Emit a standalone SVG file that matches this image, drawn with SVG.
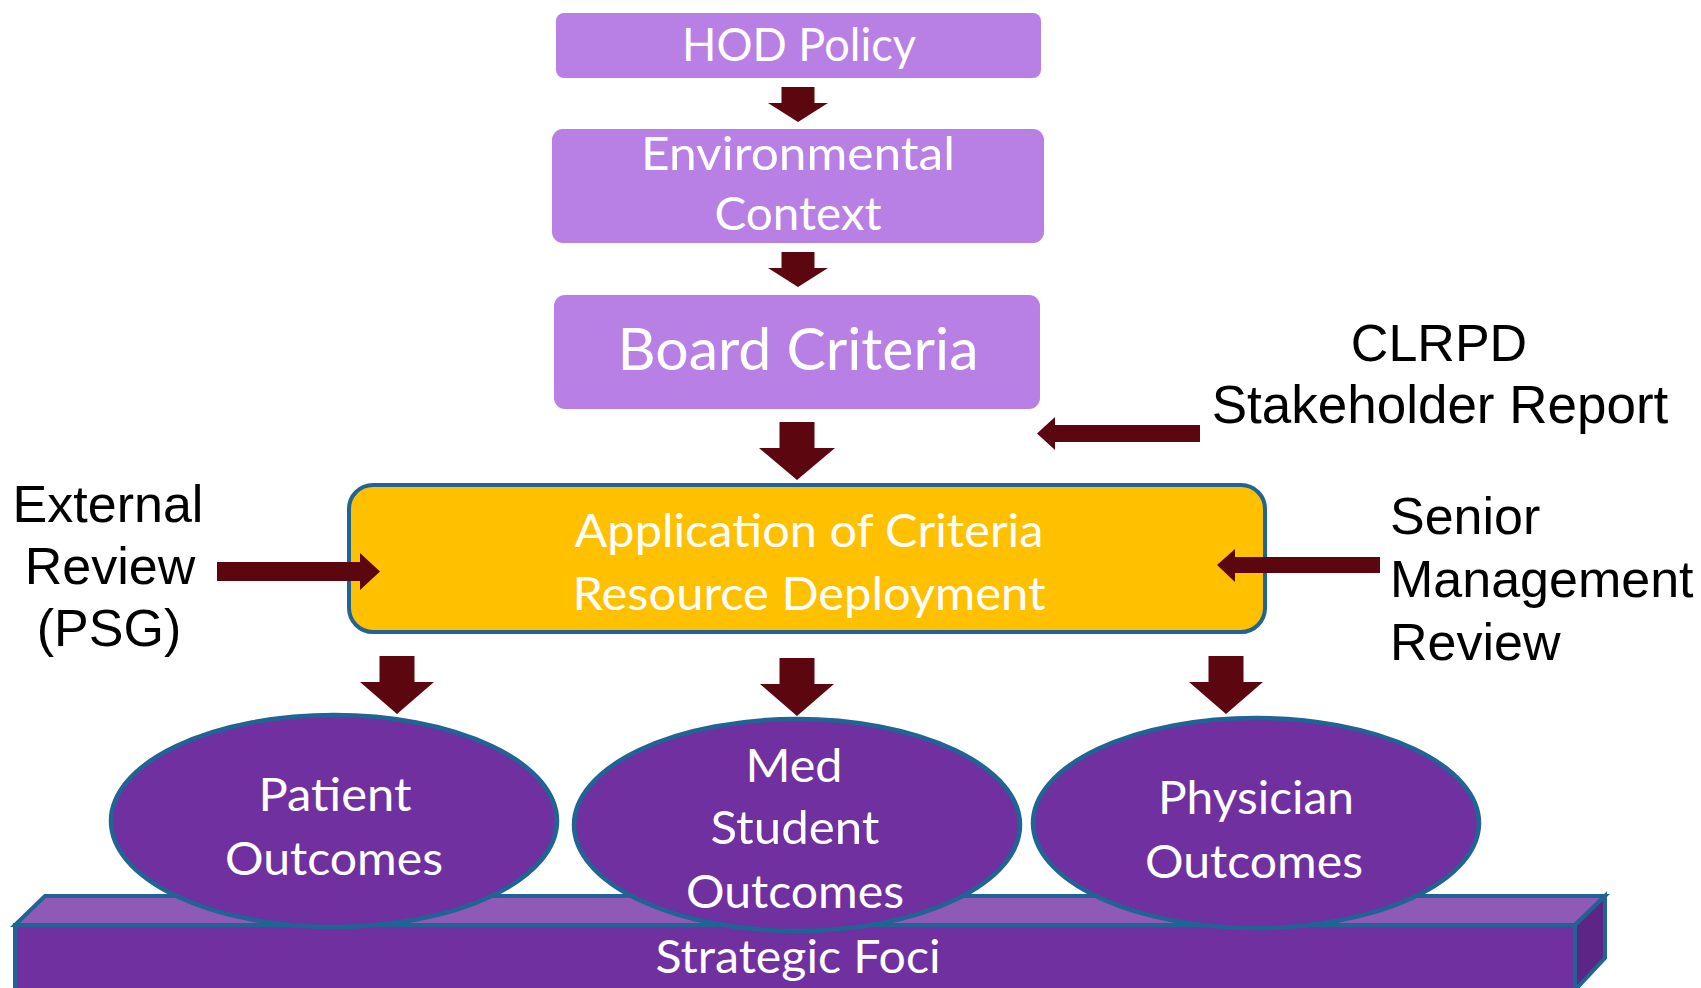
<svg xmlns="http://www.w3.org/2000/svg" width="1701" height="988" viewBox="0 0 1701 988">
<style>
.box{fill:#B880E5}
.wt{fill:#FFFFFF;font-family:Lato,"Open Sans","Noto Sans",sans-serif;font-size:47px;text-anchor:middle}
.bt{fill:#000000;font-family:"Liberation Sans",Arial,sans-serif;font-size:52px}
.arr{fill:#5C0610}
.ell{fill:#7030A0;stroke:#1F6494;stroke-width:4.5}
.edge{stroke:#1F6494;stroke-width:4;stroke-linejoin:miter}
</style>
<rect width="1701" height="988" fill="#FFFFFF"/>

<g id="strategic-foci">
<rect class="edge" x="15" y="925" width="1560" height="80" fill="#7030A0"/>
<polygon class="edge" points="15,925 45,896 1605,896 1575,925" fill="#8E5AB5"/>
<polygon class="edge" points="1575,925 1605,896 1605,958 1575,990" fill="#5C2586"/>
<text class="wt" x="798" y="973" textLength="285" lengthAdjust="spacingAndGlyphs">Strategic Foci</text>
</g>

<g id="hod-policy">
<rect class="box" x="556" y="13" width="485" height="65" rx="8"/>
<text class="wt" x="799" y="61" textLength="234" lengthAdjust="spacingAndGlyphs">HOD Policy</text>
</g>

<g id="environmental-context">
<rect class="box" x="552" y="129" width="492" height="114" rx="11"/>
<text class="wt" x="798" y="170" textLength="314" lengthAdjust="spacingAndGlyphs">Environmental</text>
<text class="wt" x="798" y="230" textLength="167" lengthAdjust="spacingAndGlyphs">Context</text>
</g>

<g id="board-criteria">
<rect class="box" x="554" y="295" width="486" height="114" rx="11"/>
<text class="wt" x="798" y="370" style="font-size:58px" textLength="361" lengthAdjust="spacingAndGlyphs">Board Criteria</text>
</g>

<g id="application">
<rect x="349" y="485" width="916" height="147" rx="24" fill="#FFC000" stroke="#1F6494" stroke-width="4"/>
<text class="wt" x="809" y="547" textLength="469" lengthAdjust="spacingAndGlyphs">Application of Criteria</text>
<text class="wt" x="809" y="610" textLength="473" lengthAdjust="spacingAndGlyphs">Resource Deployment</text>
</g>

<g id="clrpd">
<text class="bt" x="1439" y="361" text-anchor="middle">CLRPD</text>
<text class="bt" x="1440" y="423" text-anchor="middle" style="font-size:53px">Stakeholder Report</text>
</g>

<g id="external-review">
<text class="bt" x="108" y="522" text-anchor="middle">External</text>
<text class="bt" x="110" y="584" text-anchor="middle">Review</text>
<text class="bt" x="109" y="646" text-anchor="middle">(PSG)</text>
</g>

<g id="senior-management">
<text class="bt" x="1390" y="534">Senior</text>
<text class="bt" x="1390" y="597">Management</text>
<text class="bt" x="1390" y="660">Review</text>
</g>

<g id="patient-outcomes">
<ellipse class="ell" cx="334" cy="821" rx="223" ry="106"/>
<text class="wt" x="335" y="811" textLength="153" lengthAdjust="spacingAndGlyphs">Patient</text>
<text class="wt" x="334" y="875" textLength="218" lengthAdjust="spacingAndGlyphs">Outcomes</text>
</g>

<g id="med-student-outcomes">
<ellipse class="ell" cx="797" cy="825" rx="223" ry="106"/>
<text class="wt" x="794" y="782" textLength="97" lengthAdjust="spacingAndGlyphs">Med</text>
<text class="wt" x="795" y="844" textLength="169" lengthAdjust="spacingAndGlyphs">Student</text>
<text class="wt" x="795" y="908" textLength="218" lengthAdjust="spacingAndGlyphs">Outcomes</text>
</g>

<g id="physician-outcomes">
<ellipse class="ell" cx="1256" cy="823" rx="223" ry="105"/>
<text class="wt" x="1256" y="814" textLength="196" lengthAdjust="spacingAndGlyphs">Physician</text>
<text class="wt" x="1254" y="878" textLength="218" lengthAdjust="spacingAndGlyphs">Outcomes</text>
</g>

<g id="connectors">
<polygon class="arr" points="781.5,87 814.5,87 814.5,103 828,103 798,122 768,103 781.5,103"/>
<polygon class="arr" points="781.5,252 814.5,252 814.5,268 828,268 798,287 768,268 781.5,268"/>
<polygon class="arr" points="779.5,422 814.5,422 814.5,448 835,448 797,480 759,448 779.5,448"/>
<polygon class="arr" points="1200,425 1055,425 1055,417 1037,433.5 1055,450 1055,442 1200,442"/>
<polygon class="arr" points="1380,557 1235,557 1235,549 1217,565 1235,582 1235,573 1380,573"/>
<polygon class="arr" points="217,562 360,562 360,553 380,571.5 360,590 360,581 217,581"/>
<polygon class="arr" points="379.5,656 414.5,656 414.5,682 434,682 397,714 360,682 379.5,682"/>
<polygon class="arr" points="779.5,658 814.5,658 814.5,684 834,684 797,716 760,684 779.5,684"/>
<polygon class="arr" points="1208.5,656 1243.5,656 1243.5,682 1263,682 1226,714 1189,682 1208.5,682"/>
</g>
</svg>
